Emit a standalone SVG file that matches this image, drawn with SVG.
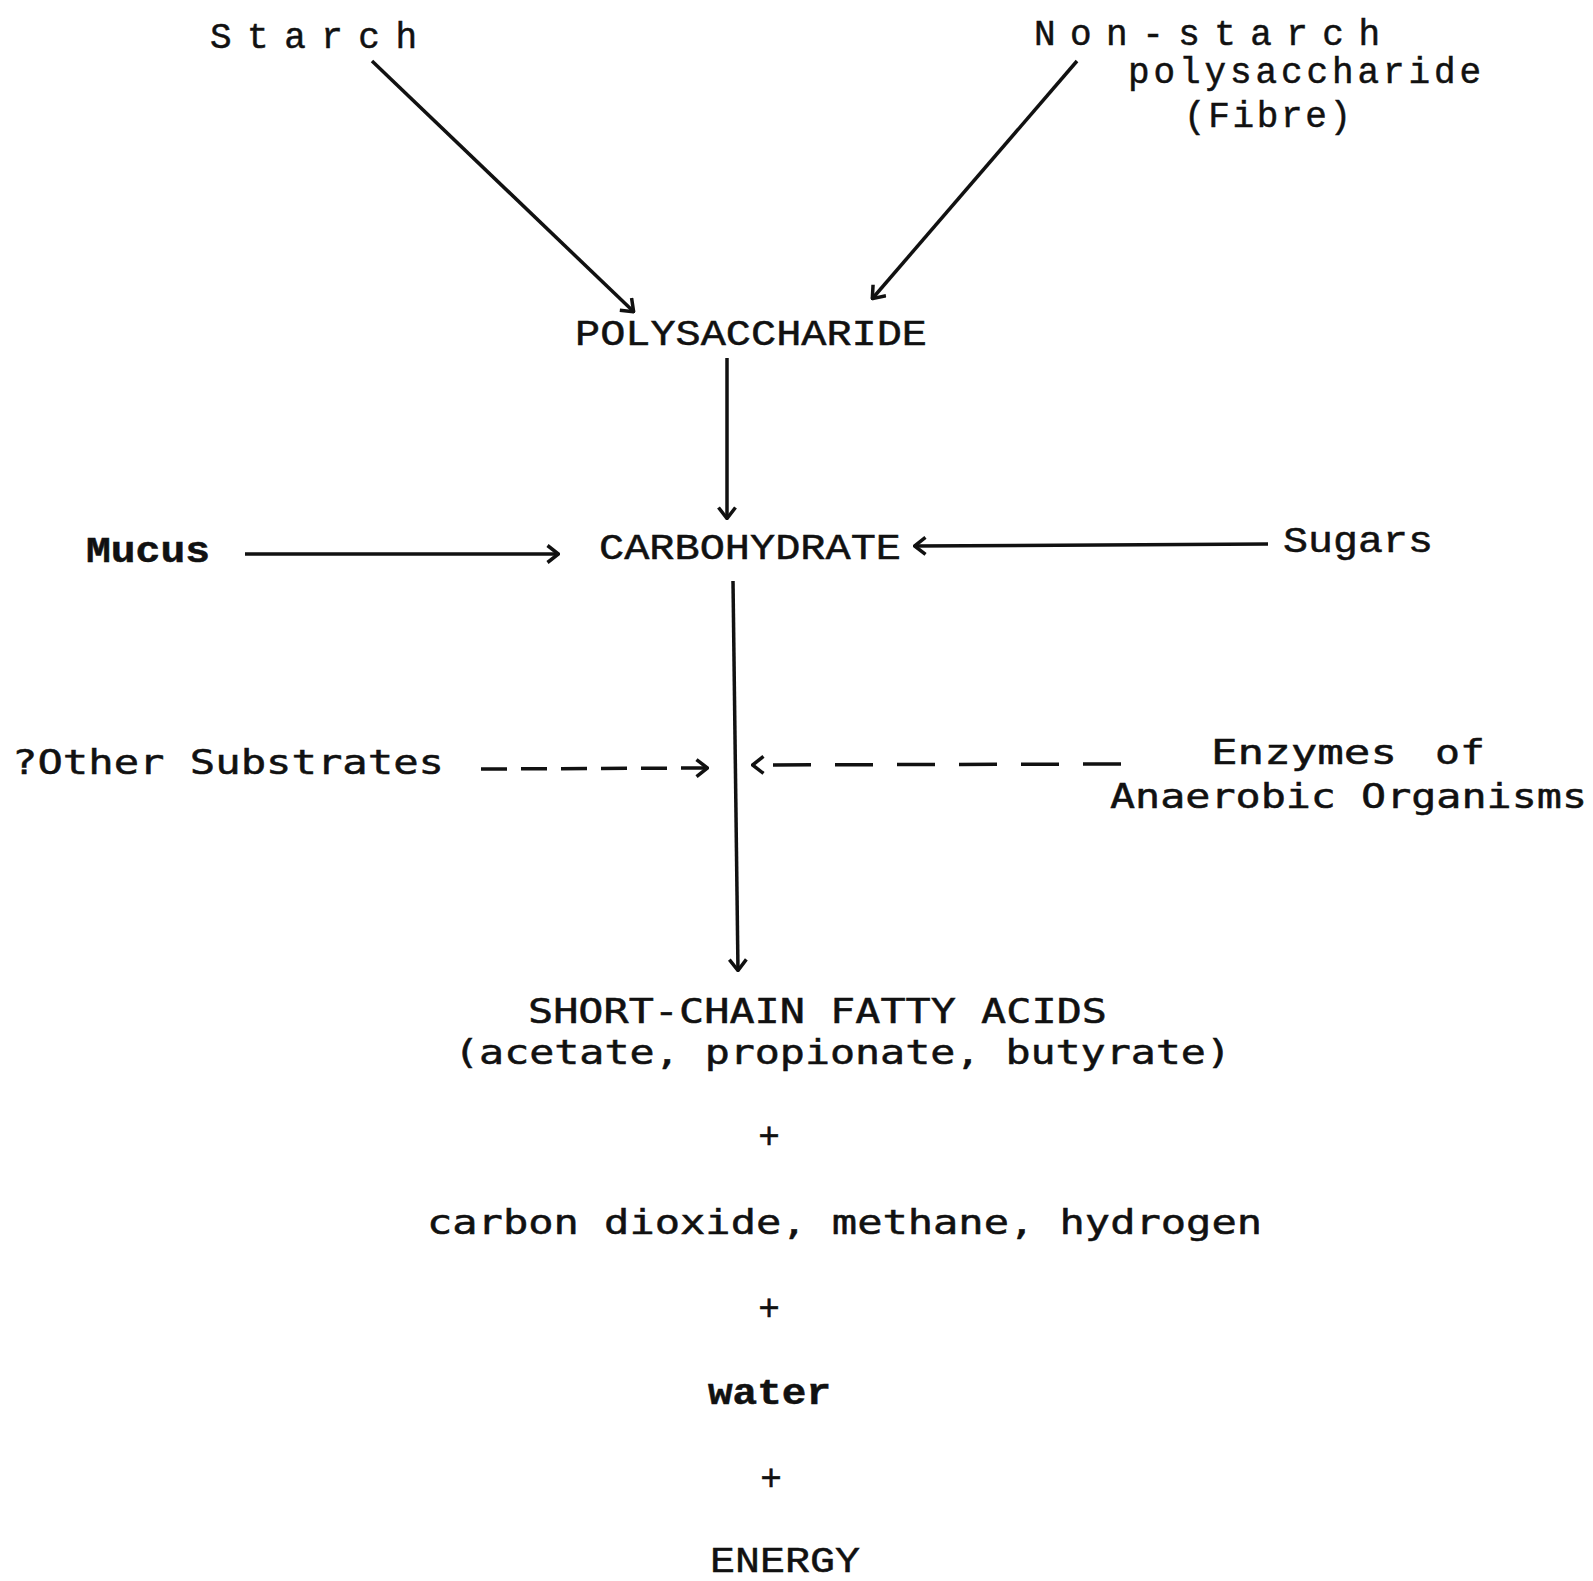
<svg xmlns="http://www.w3.org/2000/svg" width="1593" height="1581" viewBox="0 0 1593 1581">
<style>
text{font-family:"Liberation Mono","DejaVu Sans Mono",monospace;fill:#111;stroke:#111;stroke-width:0.5;}
.t{font-size:36px;}
.c{font-family:"DejaVu Sans Mono","Liberation Mono",monospace;font-size:34px;}
.b{font-weight:bold;}
.ln{stroke:#111;stroke-width:3.5;fill:none;}
</style>
<defs>
<marker id="ah" viewBox="0 0 14 20" refX="13" refY="10" markerWidth="14" markerHeight="20" markerUnits="userSpaceOnUse" orient="auto">
<path d="M1.5,1.5 L12.5,10 L1.5,18.5" fill="none" stroke="#111" stroke-width="3.5"/>
</marker>
</defs>
<rect width="1593" height="1581" fill="#fff"/>
<g id="connectors">
<line class="ln" x1="372" y1="61" x2="634" y2="312" marker-end="url(#ah)"/>
<line class="ln" x1="1077" y1="61" x2="872" y2="299" marker-end="url(#ah)"/>
<line class="ln" x1="727" y1="358" x2="727" y2="519" marker-end="url(#ah)"/>
<line class="ln" x1="245" y1="554" x2="559" y2="554" marker-end="url(#ah)"/>
<line class="ln" x1="1268" y1="544" x2="914" y2="546" marker-end="url(#ah)"/>
<line class="ln" x1="733" y1="581" x2="738" y2="971" marker-end="url(#ah)"/>
<line class="ln" x1="481" y1="769" x2="708" y2="768" stroke-dasharray="26 14" marker-end="url(#ah)"/>
<line class="ln" x1="1121" y1="764" x2="752" y2="765" stroke-dasharray="38 24" marker-end="url(#ah)"/>
</g>
<g id="starch"><text class="t" x="210" y="48" textLength="207" lengthAdjust="spacing">Starch</text></g>
<g id="nonstarch">
<text class="t" x="1034" y="45" textLength="346" lengthAdjust="spacing">Non-starch</text>
<text class="t" x="1128" y="83" textLength="353" lengthAdjust="spacing">polysaccharide</text>
<text class="t" x="1184" y="127" textLength="167" lengthAdjust="spacing">(Fibre)</text>
</g>
<g id="polysaccharide"><text class="t" x="575" y="345" textLength="352" lengthAdjust="spacingAndGlyphs">POLYSACCHARIDE</text></g>
<g id="mucus"><text class="t b" x="86" y="562" textLength="124" lengthAdjust="spacingAndGlyphs">Mucus</text></g>
<g id="carbohydrate"><text class="t" x="599" y="559" textLength="302" lengthAdjust="spacingAndGlyphs">CARBOHYDRATE</text></g>
<g id="sugars"><text class="t" x="1283" y="552" textLength="150" lengthAdjust="spacingAndGlyphs">Sugars</text></g>
<g id="other"><text class="c" x="12" y="774" textLength="432" lengthAdjust="spacingAndGlyphs">?Other Substrates</text></g>
<g id="enzymes">
<text class="c" x="1211" y="764"><tspan textLength="186" lengthAdjust="spacingAndGlyphs">Enzymes</tspan><tspan x="1435" textLength="50" lengthAdjust="spacingAndGlyphs">of</tspan></text>
<text class="c" x="1110" y="808" textLength="477" lengthAdjust="spacingAndGlyphs">Anaerobic Organisms</text>
</g>
<g id="scfa">
<text class="c" x="528" y="1023" textLength="579" lengthAdjust="spacingAndGlyphs">SHORT-CHAIN FATTY ACIDS</text>
<text class="c" x="454" y="1064" textLength="777" lengthAdjust="spacingAndGlyphs">(acetate, propionate, butyrate)</text>
</g>
<g id="plus1"><text class="t" x="769" y="1148" text-anchor="middle">+</text></g>
<g id="gases"><text class="c" x="427" y="1234" textLength="835" lengthAdjust="spacingAndGlyphs">carbon dioxide, methane, hydrogen</text></g>
<g id="plus2"><text class="t" x="769" y="1320" text-anchor="middle">+</text></g>
<g id="water"><text class="t b" x="708" y="1404" textLength="123" lengthAdjust="spacingAndGlyphs">water</text></g>
<g id="plus3"><text class="t" x="771" y="1490" text-anchor="middle">+</text></g>
<g id="energy"><text class="t" x="710" y="1572" textLength="150" lengthAdjust="spacingAndGlyphs">ENERGY</text></g>
</svg>
